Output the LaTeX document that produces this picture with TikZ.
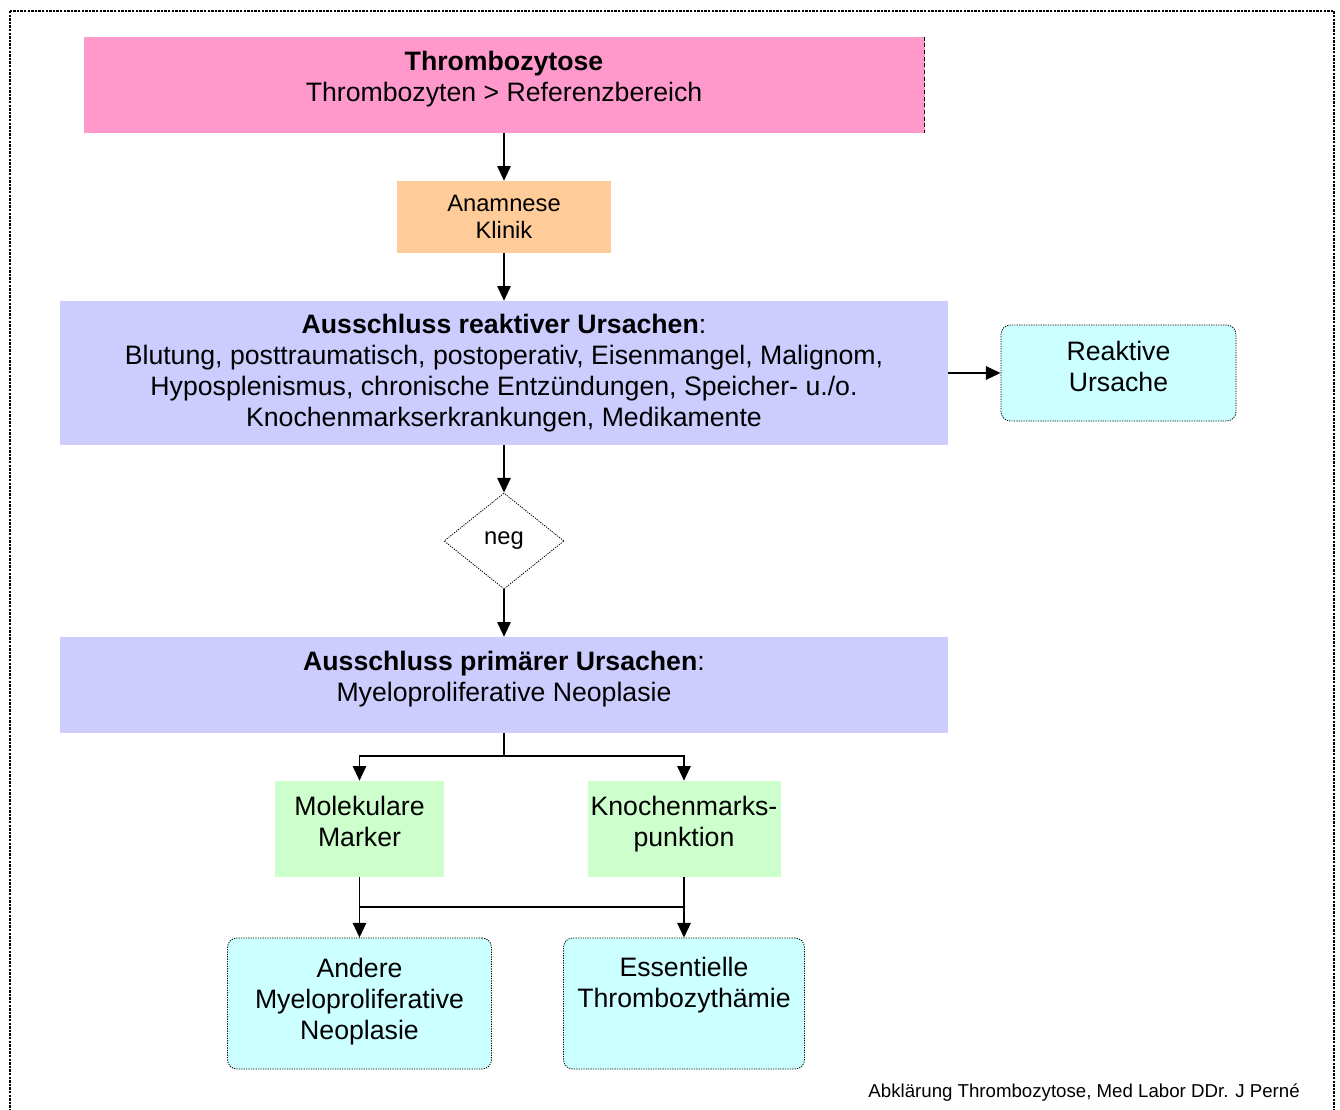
\documentclass[tikz,border=0pt]{standalone}
\usepackage{fontspec}
\setmainfont{Liberation Sans}
\usetikzlibrary{arrows.meta, shapes.geometric}

\definecolor{pinkbox}{HTML}{FF99CC}
\definecolor{orangebox}{HTML}{FFCC99}
\definecolor{lilacbox}{HTML}{CCCCFF}
\definecolor{cyanbox}{HTML}{CCFFFF}
\definecolor{greenbox}{HTML}{CCFFCC}
% text block raised inside its box, box size unchanged
\newcommand{\liftlines}[2]{\raisebox{#1}[\height][\depth]{\begin{tabular}{@{}c@{}}#2\end{tabular}}}

\begin{document}
\begin{tikzpicture}[x=0.75pt, y=-0.75pt, >={Triangle[length=11pt,width=10pt]},
  every node/.style={inner sep=0pt, align=center, font=\fontsize{20}{23.3}\selectfont},
  flat/.style={rectangle, minimum height=72pt},
  result/.style={rectangle, rounded corners=7pt, draw, line width=0.6pt,
    dash pattern=on 0.9pt off 0.9pt, fill=cyanbox, minimum height=72pt},
  conn/.style={line width=1.3pt}]
  \useasboundingbox (0,0) rectangle (1340,1110);
  \draw[line width=1.6pt, dash pattern=on 1.8pt off 0.9pt] (10,11) rectangle (1334,1118);

  % main column
  \node[flat, fill=pinkbox, minimum width=630.75pt] (thromb) at (504,85)
    {\liftlines{3.6pt}{\textbf{Thrombozytose}\\Thrombozyten > Referenzbereich}};
  \draw[line width=0.5pt, densely dashed] (thromb.north east) -- (thromb.south east);
  \node[flat, fill=orangebox, minimum width=160.5pt, minimum height=54pt,
    font=\fontsize{17.8}{20.5}\selectfont] (anamnese) at (504,217) {Anamnese\\Klinik};
  \node[flat, fill=lilacbox, minimum width=666pt, minimum height=108pt] (reaktiv) at (504,373)
    {\textbf{Ausschluss reaktiver Ursachen}:\\Blutung, posttraumatisch, postoperativ, Eisenmangel, Malignom,\\
     Hyposplenismus, chronische Entzündungen, Speicher- u./o.\\Knochenmarkserkrankungen, Medikamente};
  \node[result, minimum width=176.25pt] (reaktcause) at (1118.5,373)
    {\liftlines{2.6pt}{Reaktive\\Ursache}};
  \node[diamond, draw, line width=0.6pt, dash pattern=on 0.9pt off 0.9pt, aspect=1.25,
    minimum width=90pt, minimum height=72pt, font=\fontsize{17.8}{20}\selectfont] (neg) at (504,541) {neg};
  \node[flat, fill=lilacbox, minimum width=666pt] (primaer) at (504,685)
    {\liftlines{4pt}{\textbf{Ausschluss primärer Ursachen}:\\Myeloproliferative Neoplasie}};

  % diagnostics
  \node[flat, fill=greenbox, minimum width=126.75pt] (marker) at (359.5,829)
    {\liftlines{3pt}{Molekulare\\Marker}};
  \node[flat, fill=greenbox, minimum width=144.75pt] (punktion) at (684,829)
    {\liftlines{3pt}{Knochenmarks-\\punktion}};
  \node[result, minimum width=198pt, minimum height=98.25pt] (andere) at (359.5,1003.5)
    {\liftlines{1pt}{Andere\\Myeloproliferative\\Neoplasie}};
  \node[result, minimum width=180.75pt, minimum height=98.25pt] (essent) at (684,1003.5)
    {\liftlines{13pt}{Essentielle\\Thrombozythämie}};

  \node[anchor=base east, font=\fontsize{14}{16}\selectfont] (credit) at (1300,1097)
    {Abklärung Thrombozytose, Med Labor DDr. J Perné};

  % connectors
  \draw[conn, ->] (thromb) -- (anamnese);
  \draw[conn, ->] (anamnese) -- (reaktiv);
  \draw[conn, ->] (reaktiv) -- (reaktcause);
  \draw[conn, ->] (reaktiv) -- (neg);
  \draw[conn, ->] (neg) -- (primaer);
  \coordinate (split) at (504,756);
  \coordinate (join) at (504,907);
  \draw[conn] (primaer) -- (split);
  \draw[conn, ->] (split) -| (marker.north);
  \draw[conn, ->] (split) -| (punktion.north);
  \draw[conn, ->] (marker) -- (andere);
  \draw[conn, ->] (punktion) -- (essent);
  \draw[conn] (marker |- join) -- (punktion |- join);
\end{tikzpicture}
\end{document}
